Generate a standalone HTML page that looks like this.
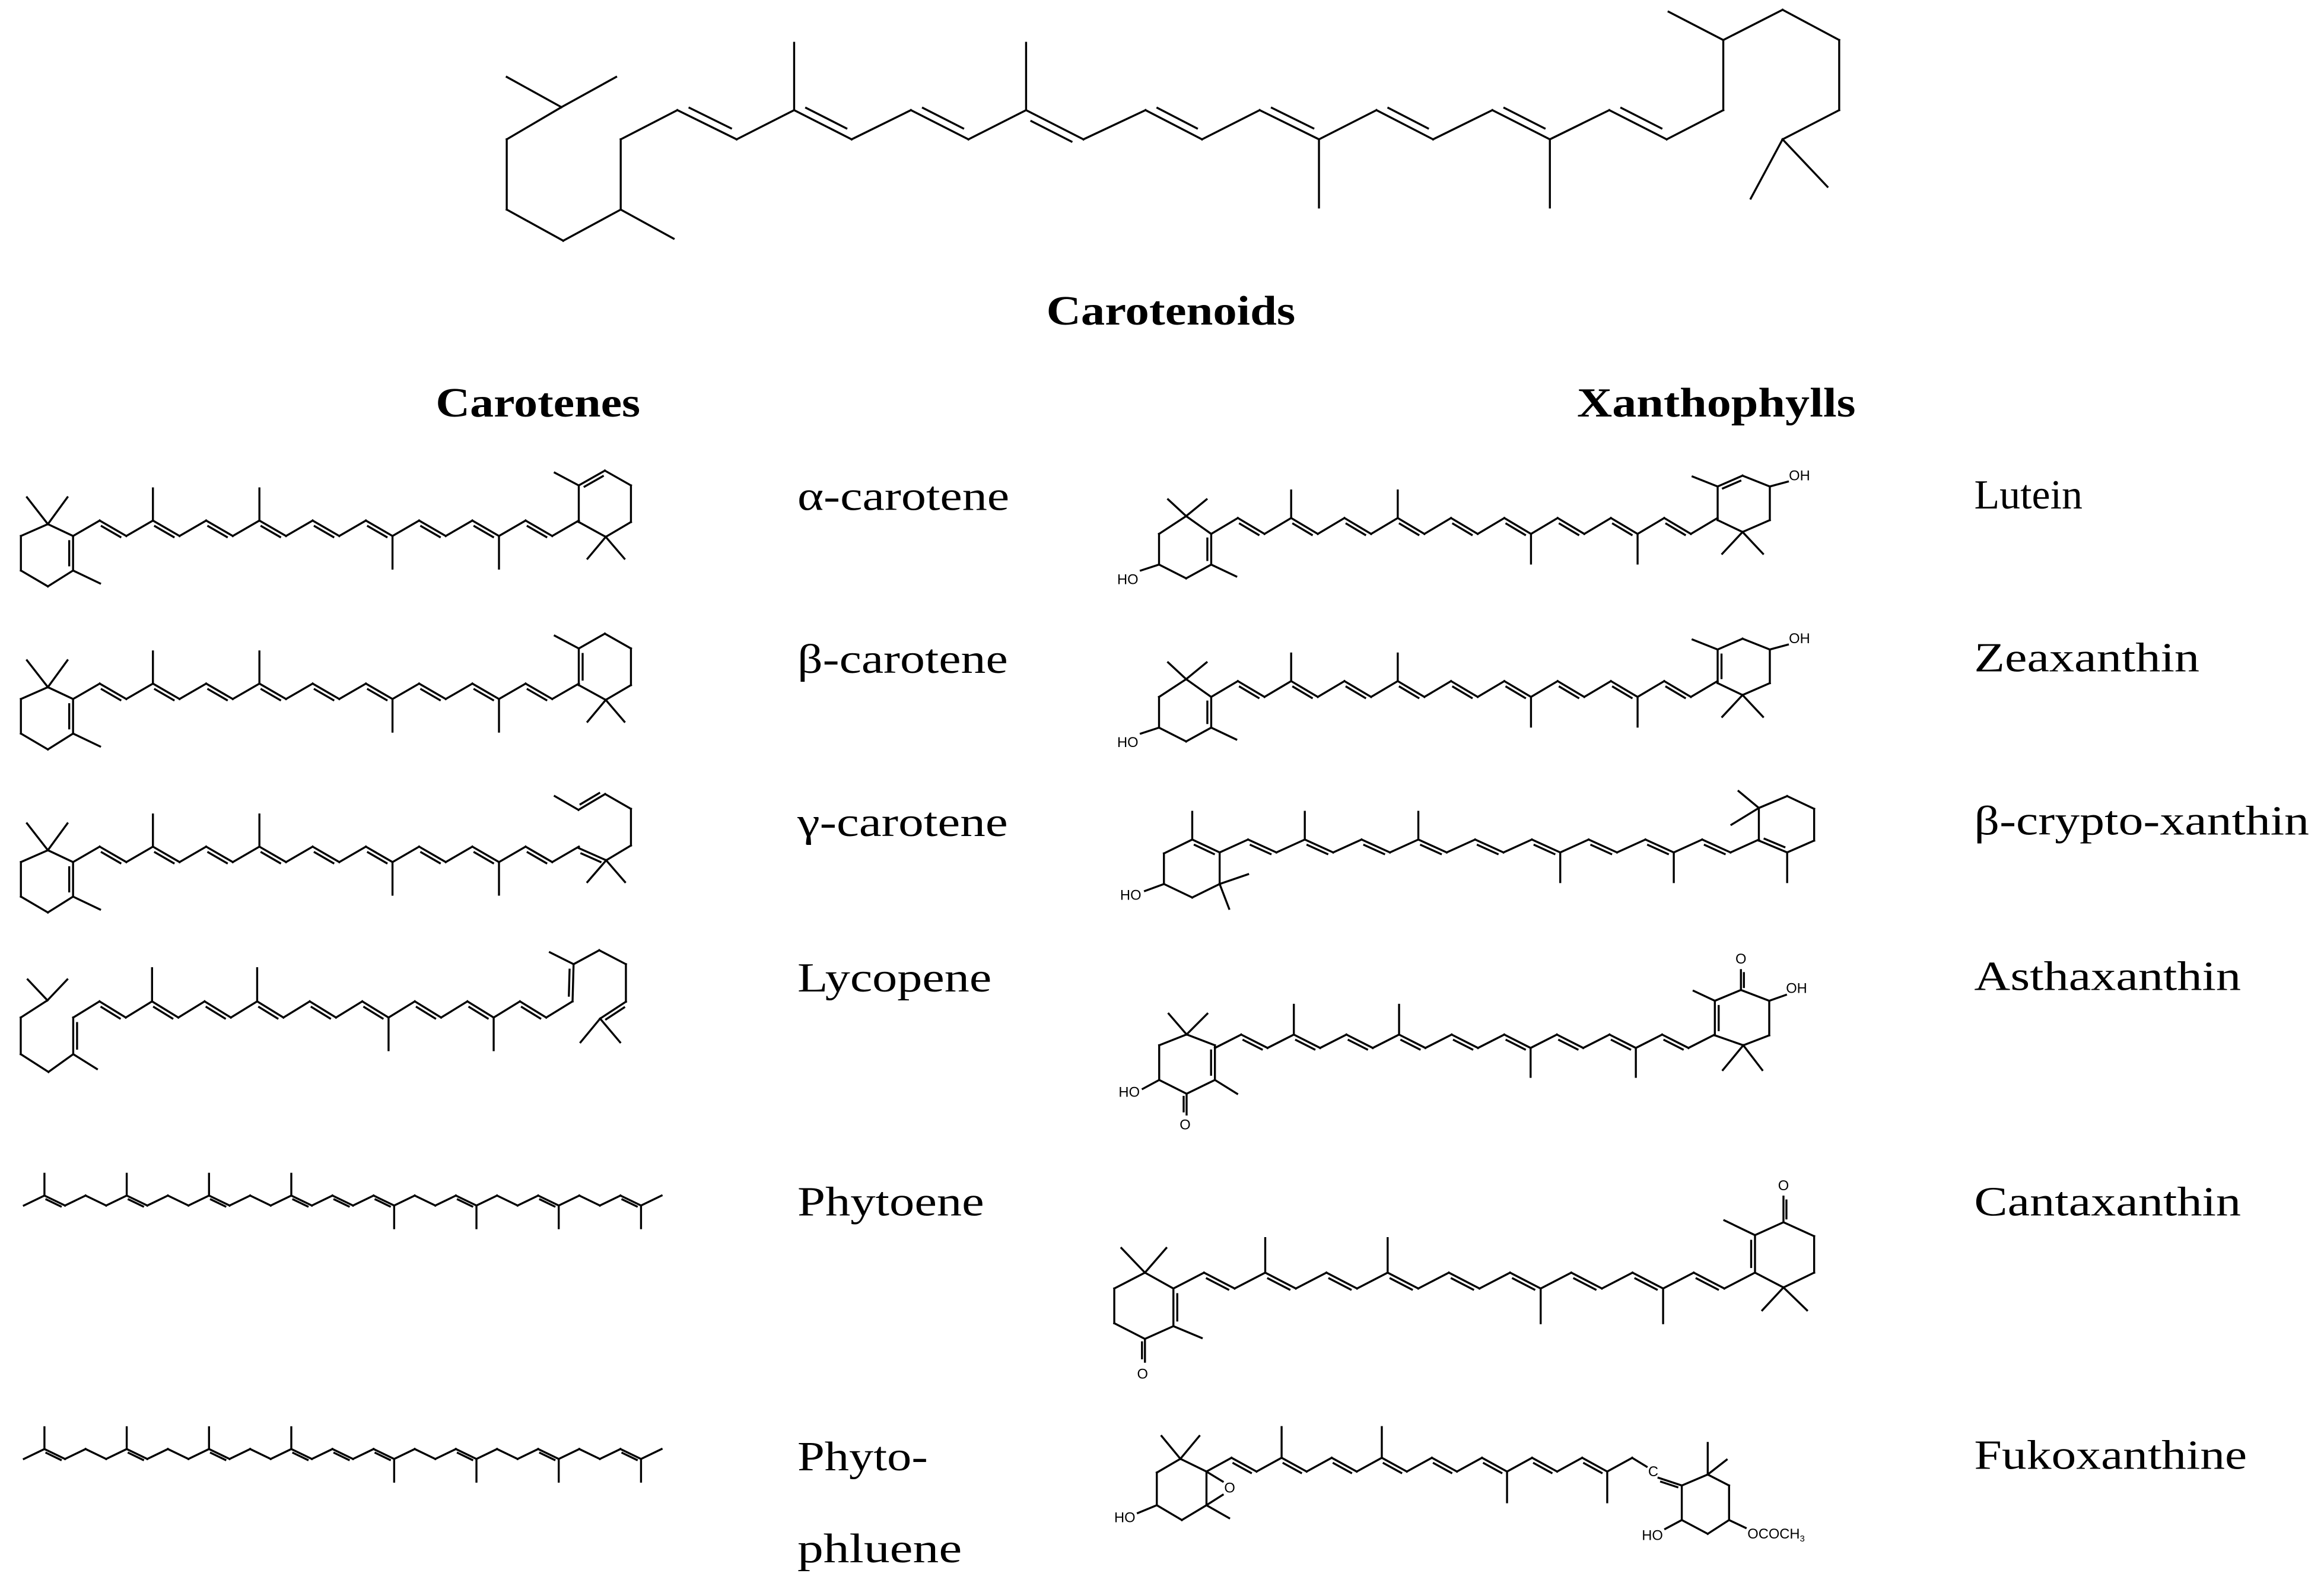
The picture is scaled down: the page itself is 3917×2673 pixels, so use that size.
<!DOCTYPE html>
<html><head><meta charset="utf-8"><style>
html,body{margin:0;padding:0;background:#fff;}
svg{display:block;}
text{font-family:"Liberation Serif",serif;fill:#000;}
.s{font-family:"Liberation Sans",sans-serif;font-size:9.5px;}
.b{font-weight:bold;}
</style></head><body>
<svg id="g" xmlns="http://www.w3.org/2000/svg" width="3917" height="2673" viewBox="0 0 1568 1070" preserveAspectRatio="none">
<g id="lines" stroke="#000" stroke-width="1.35" fill="none" stroke-linecap="square"></g>
<g font-size="28">
<text class="b" x="706" y="219" textLength="168" lengthAdjust="spacingAndGlyphs">Carotenoids</text>
<text class="b" x="294" y="281" textLength="138" lengthAdjust="spacingAndGlyphs">Carotenes</text>
<text class="b" x="1064" y="281" textLength="188" lengthAdjust="spacingAndGlyphs">Xanthophylls</text>
<text x="538" y="344" textLength="143" lengthAdjust="spacingAndGlyphs">α-carotene</text>
<text x="538" y="454" textLength="142" lengthAdjust="spacingAndGlyphs">β-carotene</text>
<text x="538" y="564" textLength="142" lengthAdjust="spacingAndGlyphs">γ-carotene</text>
<text x="538" y="669" textLength="131" lengthAdjust="spacingAndGlyphs">Lycopene</text>
<text x="538" y="820" textLength="126" lengthAdjust="spacingAndGlyphs">Phytoene</text>
<text x="538" y="992" textLength="88" lengthAdjust="spacingAndGlyphs">Phyto-</text>
<text x="538" y="1054" textLength="111" lengthAdjust="spacingAndGlyphs">phluene</text>
<text x="1332" y="343">Lutein</text>
<text x="1332" y="453" textLength="152" lengthAdjust="spacingAndGlyphs">Zeaxanthin</text>
<text x="1332" y="563" textLength="226" lengthAdjust="spacingAndGlyphs">β-crypto-xanthin</text>
<text x="1332" y="668" textLength="180" lengthAdjust="spacingAndGlyphs">Asthaxanthin</text>
<text x="1332" y="820" textLength="180" lengthAdjust="spacingAndGlyphs">Cantaxanthin</text>
<text x="1332" y="991" textLength="184" lengthAdjust="spacingAndGlyphs">Fukoxanthine</text>
</g>
<g>
<text class="s" x="768" y="394" text-anchor="end">HO</text>
<text class="s" x="1207" y="324">OH</text>
<text class="s" x="768" y="504" text-anchor="end">HO</text>
<text class="s" x="1207" y="434">OH</text>
<text class="s" x="770" y="607" text-anchor="end">HO</text>
<text class="s" x="769" y="740" text-anchor="end">HO</text>
<text class="s" x="799.6" y="762" text-anchor="middle">O</text>
<text class="s" x="1174.6" y="650" text-anchor="middle">O</text>
<text class="s" x="1205" y="670">OH</text>
<text class="s" x="770.9" y="930" text-anchor="middle">O</text>
<text class="s" x="1203.3" y="803" text-anchor="middle">O</text>
<text class="s" x="766" y="1027" text-anchor="end">HO</text>
<text class="s" x="826" y="1007">O</text>
<text class="s" x="1112" y="996">C</text>
<text class="s" x="1122" y="1039" text-anchor="end">HO</text>
<text class="s" x="1179" y="1038" font-size="8.5">OCOCH<tspan font-size="6" dy="2">3</tspan></text>
</g>
</svg>
<script>
var S=[];
function L(a,b,c,d){S.push('<line x1="'+a+'" y1="'+b+'" x2="'+c+'" y2="'+d+'"/>');}
function P(p){for(var i=0;i<p.length-1;i++)L(p[i][0],p[i][1],p[i+1][0],p[i+1][1]);}
function D(a,b,c,d,side,off){side=side||1;off=off||2.8;L(a,b,c,d);var dx=c-a,dy=d-b,l=Math.hypot(dx,dy);var nx=-dy/l*off*side,ny=dx/l*off*side,sh=0.15;L(a+dx*sh+nx,b+dy*sh+ny,c-dx*sh+nx,d-dy*sh+ny);}
function chain(x0,yv,yp,s,n,dbl,up,upY,dn,dnY,side,off,evenIsValley){
 if(evenIsValley===undefined)evenIsValley=true;
 var pts=[];for(var i=0;i<=n;i++){var ev=(i%2==0);pts.push([x0+i*s,(ev==evenIsValley)?yv:yp]);}
 for(var i=0;i<n;i++){if(dbl.indexOf(i)>=0)D(pts[i][0],pts[i][1],pts[i+1][0],pts[i+1][1],side,off);else L(pts[i][0],pts[i][1],pts[i+1][0],pts[i+1][1]);}
 up.forEach(function(k){L(pts[k][0],pts[k][1],pts[k][0],upY);});
 dn.forEach(function(k){L(pts[k][0],pts[k][1],pts[k][0],dnY);});
 return pts;
}
var ODD=[1,3,5,7,9,11,13,15,17];
P([[341.9,51.9],[378.8,72.3],[415.7,51.9]]);
P([[378.8,72.3],[341.9,94],[341.9,141.4],[380,162.4],[418.8,141.4],[454.5,161]]);
P([[418.8,141.4],[418.8,94],[457,74.3]]);
(function(){
 var xs=[457,497,535.8,574.6,614.6,653.4,692.3,731,772.9,811,849.9,889.9,928.7,966.9,1006.9,1045.7,1085.8,1124.5,1162.7];
 var p=xs.map(function(x,i){return [x,i%2==0?74.3:94];});
 for(var i=0;i<p.length-1;i++){if(i%2==0)D(p[i][0],p[i][1],p[i+1][0],p[i+1][1],i==6?1:-1,5);else L(p[i][0],p[i][1],p[i+1][0],p[i+1][1]);}
 L(535.8,74.3,535.8,28.9);L(692.3,74.3,692.3,28.9);L(889.9,94,889.9,140);L(1045.7,94,1045.7,140);
})();
P([[1162.7,74.3],[1162.7,27],[1202.7,6.6],[1240.9,27],[1240.9,74.3],[1202.7,94]]);
L(1162.7,27,1125.8,7.9);L(1202.7,94,1181.2,134);L(1202.7,94,1233,126);
function carLeft(dy){
 P([[18.2,335.5+dy],[32.3,353.6+dy],[45.5,335.5+dy]]);
 P([[32.3,353.6+dy],[14.1,361.6+dy],[14.1,384.9+dy],[32.3,395.6+dy],[49.3,384.9+dy]]);
 D(49.3,361.6+dy,49.3,384.9+dy,1,2.6);L(49.3,361.6+dy,32.3,353.6+dy);
 L(49.3,384.9+dy,67.5,393.6+dy);
 chain(49.3,361.6+dy,351.2+dy,17.96,19,ODD,[3,7],329.5+dy,[12,16],383.6+dy,1,2.6);
}
function ringRight(dy,beta){
 if(beta){D(390.5,352.2+dy,390.5,327.5+dy,1,2.6);L(390.5,327.5+dy,408.1,317.5+dy);}
 else{L(390.5,352.2+dy,390.5,327.5+dy);D(390.5,327.5+dy,408.1,317.5+dy,1,2.6);}
 P([[408.1,317.5+dy],[425.7,327.5+dy],[425.7,352.2+dy],[408.7,362.2+dy],[390.5,352.2+dy]]);
 L(408.7,362.2+dy,396.4,376.9+dy);L(408.7,362.2+dy,421.3,376.9+dy);
 L(390.5,327.5+dy,374.3,318.9+dy);
}
carLeft(0);ringRight(0,false);
carLeft(110);ringRight(110,true);
carLeft(220);
D(390.5,572.2,409,580.4,1,2.6);
L(409,580.4,396.3,595.1);L(409,580.4,421.7,595.1);
P([[409,580.4],[425.7,570.4],[425.7,545.7],[408.3,535.7]]);
D(408.3,535.7,390.3,546.4,1,2.6);L(390.3,546.4,374.3,537.1);
P([[18.7,660.8],[32,674.9],[45.4,660.8]]);
P([[32,674.9],[14,686.5],[14,711.2],[32.7,723.2],[49.4,711.2]]);
D(49.4,711.2,49.4,686.5,1,2.6);L(49.4,711.2,65.4,721.2);
chain(49.4,686.5,675.6,17.73,19,ODD,[3,7],653.2,[12,16],708.5,1,2.6);
D(386.3,675.6,387,650.5,-1,2.6);L(387,650.5,371,642.5);
P([[387,650.5],[404.3,641.1],[422.3,650.5],[422.3,675.8]]);
D(422.3,675.8,404.9,687.2,-1,2.6);
L(404.9,687.2,391.7,703.2);L(404.9,687.2,418.4,703.2);
[0,171].forEach(function(dy){
 chain(16.1,813.3+dy,806.6+dy,13.88,31,[1,5,9,13,15,17,21,25,29],[1,5,9,13],791.9+dy,[18,22,26,30],828.6+dy,1,1.8);
});
function lz(dy,zea){
 P([[788.1,336.9+dy],[800.3,348.2+dy],[814.1,336.9+dy]]);
 P([[800.3,348.2+dy],[782,360.2+dy],[782,380.9+dy],[800.3,390.2+dy],[817.2,380.9+dy]]);
 D(817.2,380.9+dy,817.2,360.2+dy,-1,2.6);L(817.2,360.2+dy,800.3,348.2+dy);
 L(817.2,380.9+dy,834.1,388.9+dy);L(782,380.9+dy,769.7,384.9+dy);
 chain(817.2,360.2+dy,349.5+dy,17.98,19,ODD,[3,7],330.9+dy,[12,16],380.2+dy,1,2.6);
 if(zea){D(1158.9,350.9+dy,1158.9,328.2+dy,1,2.6);L(1158.9,328.2+dy,1175.7,320.9+dy);}
 else{L(1158.9,350.9+dy,1158.9,328.2+dy);D(1158.9,328.2+dy,1175.7,320.9+dy,1,2.6);}
 P([[1175.7,320.9+dy],[1194.1,328.2+dy],[1194.1,350.9+dy],[1175.7,358.9+dy],[1158.9,350.9+dy]]);
 L(1175.7,358.9+dy,1162,373.6+dy);L(1175.7,358.9+dy,1189.5,373.6+dy);
 L(1158.9,328.2+dy,1142,321.5+dy);L(1194.1,328.2+dy,1206.3,324.9+dy);
}
lz(0,false);lz(110,true);
D(804.4,566.4,822.9,575.1,1,2.6);
P([[804.4,566.4],[785.3,575.8],[785.3,596.4],[804.4,605.5],[822.9,596.4],[822.9,575.1]]);
L(804.4,566.4,804.4,547.7);L(822.9,596.4,842.1,589.8);L(822.9,596.4,829.3,613.1);L(785.3,596.4,772.5,601.1);
chain(822.9,575.1,566.4,19.15,19,ODD,[3,7],547.7,[12,16],595.1,1,2.6);
D(1186.7,567.1,1205.8,575.1,-1,2.6);
P([[1186.7,567.1],[1186.7,545.1],[1205.8,537.1],[1224,545.7],[1224,567.1],[1205.8,575.1]]);
L(1205.8,575.1,1205.8,595.1);L(1186.7,545.1,1173,533.7);L(1186.7,545.1,1168.2,556.4);
P([[788.5,683.9],[800.6,697.9],[814.6,683.9]]);
P([[800.6,697.9],[782.1,705.2],[782.1,728.6],[800.6,737.9],[819.7,728.6]]);
D(819.7,705.2,819.7,728.6,1,2.6);L(819.7,705.2,800.6,697.9);
L(819.7,728.6,834.7,737.9);D(800.6,737.9,800.6,751.9,1,2);L(782.1,728.6,771,734.6);
chain(819.7,707,698,17.75,19,ODD,[3,7],677.9,[12,16],726.5,1,2.6);
D(1157,698.5,1157,675.2,1,2.6);
P([[1157,675.2],[1174.6,667.9],[1193.7,675.2],[1193.7,698.5],[1176.2,705.2],[1157,698.5]]);
L(1157,675.2,1142.7,668.5);D(1174.6,667.9,1174.6,654.5,1,2);L(1193.7,675.2,1205,671.2);
L(1176.2,705.2,1162.4,721.9);L(1176.2,705.2,1189,721.9);
P([[756.6,842],[772.5,858.6],[786.9,842]]);
P([[772.5,858.6],[751.8,869.3],[751.8,892.7],[772.5,903.3],[791.7,894.7]]);
D(791.7,869.3,791.7,894.7,-1,2.6);L(791.7,869.3,772.5,858.6);
L(791.7,894.7,810.8,902.7);D(772.5,903.3,772.5,918.7,1,2);
chain(791.7,869.3,858.6,20.65,19,ODD,[3,7],835.3,[12,16],892.7,1,2.6);
D(1184.1,858.6,1184.1,833.3,-1,2.6);
P([[1184.1,833.3],[1203.3,824.6],[1224,834],[1224,858.6],[1203.3,868.6],[1184.1,858.6]]);
L(1184.1,833.3,1163.4,823.3);D(1203.3,824.6,1203.3,807.3,1,2);
L(1203.3,868.6,1189,884);L(1203.3,868.6,1219.2,884);
P([[783.7,968.8],[796.4,984.2],[809.2,968.8]]);
P([[796.4,984.2],[780.5,993.5],[780.5,1015.5],[797.4,1025.5],[814,1015.5],[814,992.8],[796.4,984.2]]);
L(814,1015.5,829.3,1024.2);L(780.5,1015.5,767.7,1020.8);
L(814,992.8,825,999.5);L(814,1015.5,825,1008.5);
chain(814,992.8,983.5,16.9,17,[1,3,5,7,9,11,13,15],[3,7],962.8,[12,16],1013.5,1,2.6);
L(1101.2,983.5,1111,989.5);D(1119,997,1134.7,1002.2,1,2);
P([[1134.7,1002.2],[1152.2,994.8],[1166.6,1002.2],[1166.6,1025.5],[1152.2,1034.8],[1134.7,1025.5],[1134.7,1002.2]]);
L(1152.2,994.8,1152.2,973.5);L(1152.2,994.8,1165,984.8);
L(1134.7,1025.5,1123.5,1031.5);L(1166.6,1025.5,1177.8,1030.8);
document.getElementById('lines').innerHTML=S.join('');
</script>
</body></html>
